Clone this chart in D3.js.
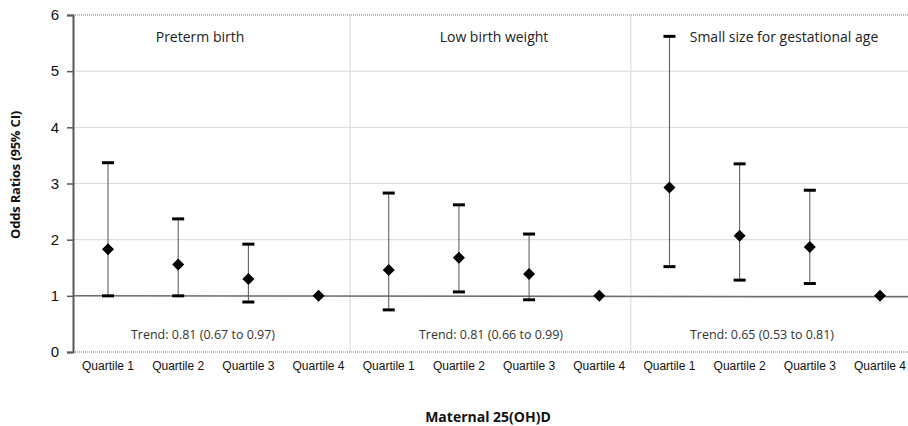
<!DOCTYPE html>
<html><head><meta charset="utf-8">
<script src="https://cdn.jsdelivr.net/npm/d3@7"></script>
<style>body{margin:0;background:#fff}svg{display:block}</style>
</head><body>
<svg id="c" width="908" height="426"></svg>
<script>
const categories = ["Quartile 1","Quartile 2","Quartile 3","Quartile 4"];
const panels = ["Preterm birth","Low birth weight","Small size for gestational age"];
const trends = ["Trend: 0.81 (0.67 to 0.97)","Trend: 0.81 (0.66 to 0.99)","Trend: 0.65 (0.53 to 0.81)"];
const estimates = [[1.83,1.56,1.30,1.00],[1.46,1.68,1.39,1.00],[2.93,2.07,1.87,1.00]];
const lower = [[1.00,1.00,0.89,null],[0.75,1.07,0.93,null],[1.52,1.28,1.22,null]];
const upper = [[3.37,2.37,1.92,null],[2.83,2.62,2.10,null],[5.62,3.35,2.88,null]];
const yTicks = [0,1,2,3,4,5,6];

const svg = d3.select("#c");
const x = d3.scaleLinear().domain([0,11]).range([108,880]);
const y = d3.scaleLinear().domain([0,6]).range([352,15]);
const x0 = 73, x1 = 908;

const pts = [];
panels.forEach((p,pi)=>categories.forEach((c,ci)=>pts.push({i:pi*4+ci,c,est:estimates[pi][ci],lo:lower[pi][ci],hi:upper[pi][ci]})));

// gridlines
svg.append("g").selectAll("line").data([1,2,3,4,5]).join("line")
  .attr("x1",x0).attr("x2",x1).attr("y1",d=>y(d)).attr("y2",d=>y(d))
  .attr("stroke","#d9d9d9").attr("stroke-width",1);
// dividers
svg.append("g").selectAll("line").data([3.45,7.45]).join("line")
  .attr("x1",d=>x(d)).attr("x2",d=>x(d)).attr("y1",y(6)).attr("y2",y(0))
  .attr("stroke","#d9d9d9").attr("stroke-width",1);
// top & bottom dotted
svg.append("g").selectAll("line").data([0,6]).join("line")
  .attr("x1",x0).attr("x2",x1).attr("y1",d=>y(d)).attr("y2",d=>y(d))
  .attr("stroke","#777").attr("stroke-width",1).attr("stroke-dasharray","1,1");
// reference line at 1
svg.append("line").attr("x1",x0).attr("x2",x1).attr("y1",y(1)).attr("y2",y(1)+1)
  .attr("stroke","#6e6e6e").attr("stroke-width",1.5);

// y axis
const yAxis = svg.append("g").attr("transform",`translate(${x0},0)`)
  .call(d3.axisLeft(y).tickValues(yTicks).tickFormat(d3.format("d")).tickSize(6).tickPadding(8));
yAxis.select(".domain").attr("stroke","#595959").attr("stroke-width",2);
yAxis.selectAll(".tick line").attr("stroke","#595959").attr("stroke-width",1.5);
yAxis.selectAll(".tick text").attr("font-family","Liberation Sans, Arial, sans-serif").attr("font-size",15).attr("fill","#111");

// x labels
svg.append("g").selectAll("text").data(pts).join("text")
  .attr("x",d=>x(d.i)).attr("y",370).attr("text-anchor","middle")
  .attr("font-family","Liberation Sans, Arial, sans-serif").attr("font-size",12).attr("fill","#111")
  .text(d=>d.c);

// panel titles
const titleX = [200,494,784];
svg.append("g").selectAll("text").data(panels).join("text")
  .attr("x",(d,i)=>titleX[i]).attr("y",42).attr("text-anchor","middle")
  .attr("font-family","Open Sans, Noto Sans, sans-serif").attr("font-size",14).attr("fill","#222")
  .text(d=>d);
const trendX = [203,491,762];
svg.append("g").selectAll("text").data(trends).join("text")
  .attr("x",(d,i)=>trendX[i]).attr("y",339).attr("text-anchor","middle")
  .attr("font-family","Open Sans, Noto Sans, sans-serif").attr("font-size",12.5).attr("fill","#333")
  .text(d=>d);

// error bars
const eb = pts.filter(d=>d.lo!=null);
svg.append("g").selectAll("line").data(eb).join("line")
  .attr("x1",d=>x(d.i)).attr("x2",d=>x(d.i)).attr("y1",d=>y(d.lo)).attr("y2",d=>y(d.hi))
  .attr("stroke","#555").attr("stroke-width",1);
["lo","hi"].forEach(k=>{
  svg.append("g").selectAll("line").data(eb).join("line")
    .attr("x1",d=>x(d.i)-6).attr("x2",d=>x(d.i)+6).attr("y1",d=>y(d[k])).attr("y2",d=>y(d[k]))
    .attr("stroke","#000").attr("stroke-width",3);
});
// diamonds
svg.append("g").selectAll("path").data(pts).join("path")
  .attr("transform",d=>`translate(${x(d.i)},${y(d.est)})`)
  .attr("d","M0,-6L6,0L0,6L-6,0Z").attr("fill","#000");

// axis titles
svg.append("text").attr("transform",`translate(20,175) rotate(-90)`).attr("text-anchor","middle")
  .attr("font-family","Open Sans, Noto Sans, sans-serif").attr("font-weight","bold").attr("font-size",13).attr("fill","#111")
  .attr("letter-spacing","-0.2")
  .text("Odds Ratios (95% CI)");
svg.append("text").attr("x",488).attr("y",422).attr("text-anchor","middle")
  .attr("font-family","Open Sans, Noto Sans, sans-serif").attr("font-weight","bold").attr("font-size",14).attr("fill","#111")
  .text("Maternal 25(OH)D");
</script>
</body></html>
